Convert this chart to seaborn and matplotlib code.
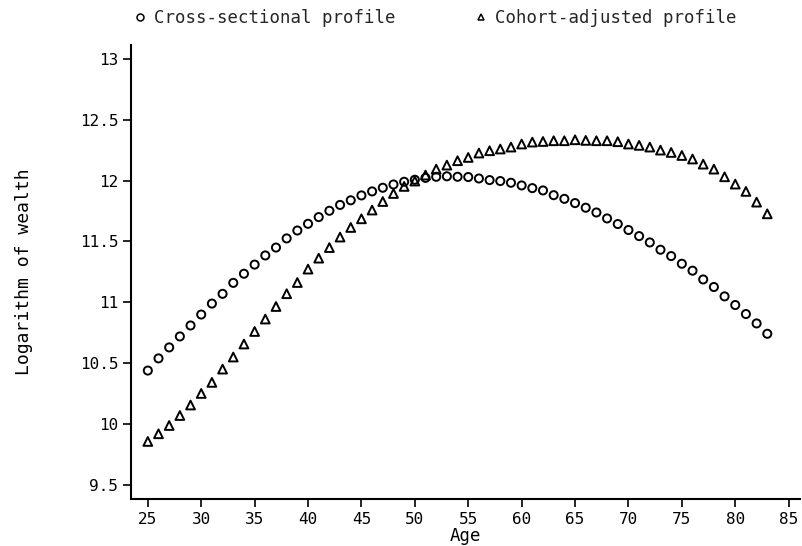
import matplotlib
matplotlib.use("Agg")
import matplotlib.pyplot as plt
from matplotlib.lines import Line2D
import seaborn as sns
import pandas as pd

ages = list(range(25, 84))

cross_sectional = [
    10.44, 10.54, 10.63, 10.72, 10.81, 10.90, 10.99, 11.07, 11.16, 11.235,
    11.31, 11.385, 11.45, 11.525, 11.59, 11.645, 11.70, 11.752, 11.80, 11.838,
    11.878, 11.911, 11.941, 11.968, 11.99, 12.007, 12.022, 12.031, 12.035, 12.031,
    12.029, 12.017, 12.004, 11.996, 11.982, 11.96, 11.938, 11.919, 11.88, 11.85,
    11.815, 11.777, 11.738, 11.689, 11.643, 11.594, 11.544, 11.492, 11.432, 11.38,
    11.317, 11.26, 11.188, 11.126, 11.049, 10.978, 10.904, 10.827, 10.742,
]

cohort_adjusted = [
    9.858, 9.921, 9.989, 10.071, 10.157, 10.252, 10.343, 10.452, 10.551, 10.658,
    10.761, 10.863, 10.966, 11.071, 11.163, 11.273, 11.363, 11.45, 11.536, 11.615,
    11.686, 11.758, 11.828, 11.894, 11.952, 11.996, 12.045, 12.094, 12.127, 12.163,
    12.19, 12.226, 12.245, 12.259, 12.275, 12.30, 12.316, 12.321, 12.327, 12.327,
    12.335, 12.33, 12.327, 12.327, 12.319, 12.30, 12.289, 12.275, 12.25, 12.231,
    12.206, 12.177, 12.135, 12.094, 12.031, 11.971, 11.911, 11.823, 11.727,
]

series_names = ["Cross-sectional profile", "Cohort-adjusted profile"]
x_ticks = list(range(25, 90, 5))
y_ticks = [9.5, 10, 10.5, 11, 11.5, 12, 12.5, 13]
y_tick_labels = ["9.5", "10", "10.5", "11", "11.5", "12", "12.5", "13"]

df = pd.DataFrame({
    "Age": ages * 2,
    "value": cross_sectional + cohort_adjusted,
    "series": [series_names[0]] * len(ages) + [series_names[1]] * len(ages),
})

sns.set_theme(style="ticks")
plt.rcParams["font.family"] = ["DejaVu Sans Mono", "DejaVu Sans"]

fig = plt.figure(figsize=(8.02, 5.46), dpi=100)
ax = fig.add_axes([0.163, 0.086, 0.835, 0.832])

markers = {series_names[0]: "o", series_names[1]: "^"}
for name in series_names:
    sub = df[df["series"] == name]
    sns.scatterplot(data=sub, x="Age", y="value", marker=markers[name],
                    s=34 if name == series_names[0] else 40,
                    facecolor="none", edgecolor="black", linewidth=1.4,
                    ax=ax, legend=False)

ax.set_xlim(23.4, 86.1)
ax.set_ylim(9.385, 13.115)
ax.set_xticks(x_ticks)
ax.set_xticklabels([str(t) for t in x_ticks])
ax.set_yticks(y_ticks)
ax.set_yticklabels(y_tick_labels)
ax.tick_params(axis="both", direction="out", length=6, width=1.2,
               labelsize=11.5, colors="black", pad=3)
for side in ["top", "right"]:
    ax.spines[side].set_visible(False)
for side in ["left", "bottom"]:
    ax.spines[side].set_linewidth(1.5)
    ax.spines[side].set_color("black")

ax.set_xlabel("Age", fontsize=12.5, labelpad=0, color="black")
ax.set_ylabel("Logarithm of wealth", fontsize=13, labelpad=34, color="black")

handles = [
    Line2D([], [], marker="o", linestyle="none", markerfacecolor="none",
           markeredgecolor="black", markersize=5, markeredgewidth=1.1),
    Line2D([], [], marker="^", linestyle="none", markerfacecolor="none",
           markeredgecolor="black", markersize=5, markeredgewidth=1.1),
]
fig.legend(handles, series_names, loc="center", bbox_to_anchor=(0.543, 0.967),
           ncol=2, frameon=False, fontsize=12.5, handlelength=0.6,
           handletextpad=0.5, columnspacing=4.6)

fig.savefig("out.png", dpi=100, facecolor="white")
